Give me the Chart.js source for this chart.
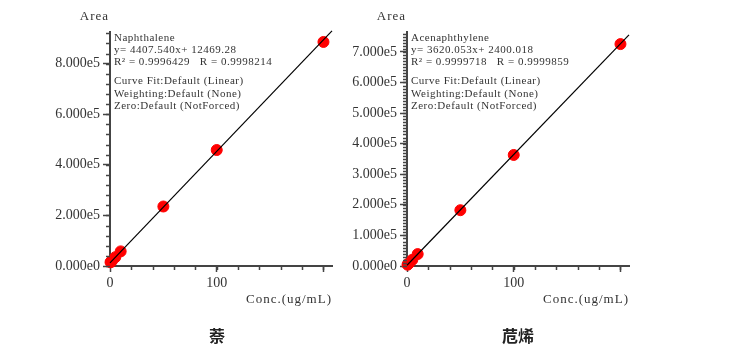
<!DOCTYPE html>
<html>
<head>
<meta charset="utf-8">
<script src="https://cdn.jsdelivr.net/npm/chart.js@4.4.1/dist/chart.umd.min.js"></script>
<style>
  body { margin: 0; background: #fff; }
  #wrap { position: relative; width: 756px; height: 352px; overflow: hidden; }
  canvas { position: absolute; top: 0; }
  .cap { position: absolute; top: 323px; font: bold 16px "Noto Sans CJK SC"; color: #222; transform: translateX(-50%); }
</style>
</head>
<body>
<div id="wrap">
  <canvas id="c1" width="378" height="352" style="left:0px;width:378px;height:352px"></canvas>
  <canvas id="c2" width="378" height="352" style="left:297px;width:378px;height:352px"></canvas>
  <div class="cap" style="left:217px">萘</div>
  <div class="cap" style="left:518px">苊烯</div>
</div>
<script>
// calibration data
const conc = [0.5, 1, 2, 5, 10, 50, 100, 200];
const naphArea = [14700, 17100, 21600, 35000, 57800, 235200, 458500, 885600];
const acenArea = [4200, 6000, 9600, 20400, 38900, 182400, 363000, 725500];

// fit lines (end points)
const fitConc = [0, 208];
const naphFit = [12469, 929240];
const acenFit = [2400, 755370];

// axes
const xTicks = [0, 100, 200];
const xMax = 208;
const naphYTicks = [0, 200000, 400000, 600000, 800000];
const naphYMax = 925000;
const acenYTicks = [0, 100000, 200000, 300000, 400000, 500000, 600000, 700000];
const acenYMax = 765000;

const naphText = ['Naphthalene', 'y= 4407.540x+ 12469.28', 'R\u00B2 = 0.9996429   R = 0.9998214',
  '', 'Curve Fit:Default (Linear)', 'Weighting:Default (None)', 'Zero:Default (NotForced)'];
const acenText = ['Acenaphthylene', 'y= 3620.053x+ 2400.018', 'R\u00B2 = 0.9999718   R = 0.9999859',
  '', 'Curve Fit:Default (Linear)', 'Weighting:Default (None)', 'Zero:Default (NotForced)'];

const FONT = '"Liberation Serif", serif';
const AXIS = '#444';

// minor ticks + labels in the plot
const extras = {
  id: 'extras',
  afterDraw(chart, args, opts) {
    const ctx = chart.ctx;
    const area = chart.chartArea;
    const xs = chart.scales.x, ys = chart.scales.y;
    ctx.save();
    ctx.strokeStyle = AXIS;
    ctx.lineWidth = 1.5;
    ctx.beginPath();
    for (let v = 0; v <= opts.yMax; v += opts.yMinor) {
      const y = Math.round(ys.getPixelForValue(v)) + 0.5;
      ctx.moveTo(area.left - 4, y);
      ctx.lineTo(area.left, y);
    }
    for (let v = 20; v <= xMax; v += 20) {
      const x = Math.round(xs.getPixelForValue(v)) + 0.5;
      ctx.moveTo(x, area.bottom);
      ctx.lineTo(x, area.bottom + 4);
    }
    ctx.stroke();

    ctx.fillStyle = '#333';
    ctx.font = '13px ' + FONT;
    ctx.letterSpacing = '1px';
    ctx.textAlign = 'right';
    ctx.textBaseline = 'middle';
    ctx.fillText('Area', area.left - 1, 17);
    ctx.fillText('Conc.(ug/mL)', area.right, 300);

    ctx.font = '11px ' + FONT;
    ctx.letterSpacing = '0.5px';
    ctx.textAlign = 'left';
    let y = 38;
    opts.lines.forEach((t, i) => {
      if (t) ctx.fillText(t, area.left + 4, y);
      y += (t ? 12.3 : 6.5);
    });
    ctx.restore();
  }
};

function makeChart(id, area, fit, yTicks, yMax, yMinor, lines) {
  return new Chart(document.getElementById(id), {
    type: 'scatter',
    data: {
      datasets: [{
        data: fitConc.map((x, i) => ({ x: x, y: fit[i] })),
        showLine: true,
        borderColor: '#000',
        borderWidth: 1.2,
        pointRadius: 0,
        clip: false
      }, {
        data: conc.map((x, i) => ({ x: x, y: area[i] })),
        backgroundColor: '#ff0000',
        borderColor: '#ff0000',
        pointRadius: 5.5,
        clip: false
      }]
    },
    options: {
      responsive: false,
      animation: false,
      layout: { padding: { top: 32, right: 46, left: 0, bottom: 0 } },
      plugins: {
        legend: { display: false },
        tooltip: { enabled: false },
        extras: { yMax: yMax, yMinor: yMinor, lines: lines }
      },
      scales: {
        x: {
          type: 'linear',
          min: 0, max: xMax,
          afterBuildTicks: s => { s.ticks = xTicks.map(v => ({ value: v })); },
          afterFit: s => { s.height = 86; },
          grid: { drawOnChartArea: false, tickLength: 6, color: AXIS, tickWidth: 1.5 },
          border: { display: true, color: AXIS, width: 2 },
          ticks: {
            autoSkip: false, maxRotation: 0, padding: 3,
            color: '#333', font: { family: FONT, size: 14 },
            callback: v => (v === 200 ? '' : String(v))
          }
        },
        y: {
          type: 'linear',
          min: 0, max: yMax,
          afterBuildTicks: s => { s.ticks = yTicks.map(v => ({ value: v })); },
          afterFit: s => { s.width = 110; },
          grid: { drawOnChartArea: false, tickLength: 7, color: AXIS, tickWidth: 1.5 },
          border: { display: true, color: AXIS, width: 2 },
          ticks: {
            autoSkip: false, padding: 3,
            color: '#333', font: { family: FONT, size: 14 },
            callback: v => v.toExponential(3).replace('e+', 'e')
          }
        }
      }
    },
    plugins: [extras]
  });
}

makeChart('c1', naphArea, naphFit, naphYTicks, naphYMax, 40000, naphText);
makeChart('c2', acenArea, acenFit, acenYTicks, acenYMax, 10000, acenText);
</script>
</body>
</html>
